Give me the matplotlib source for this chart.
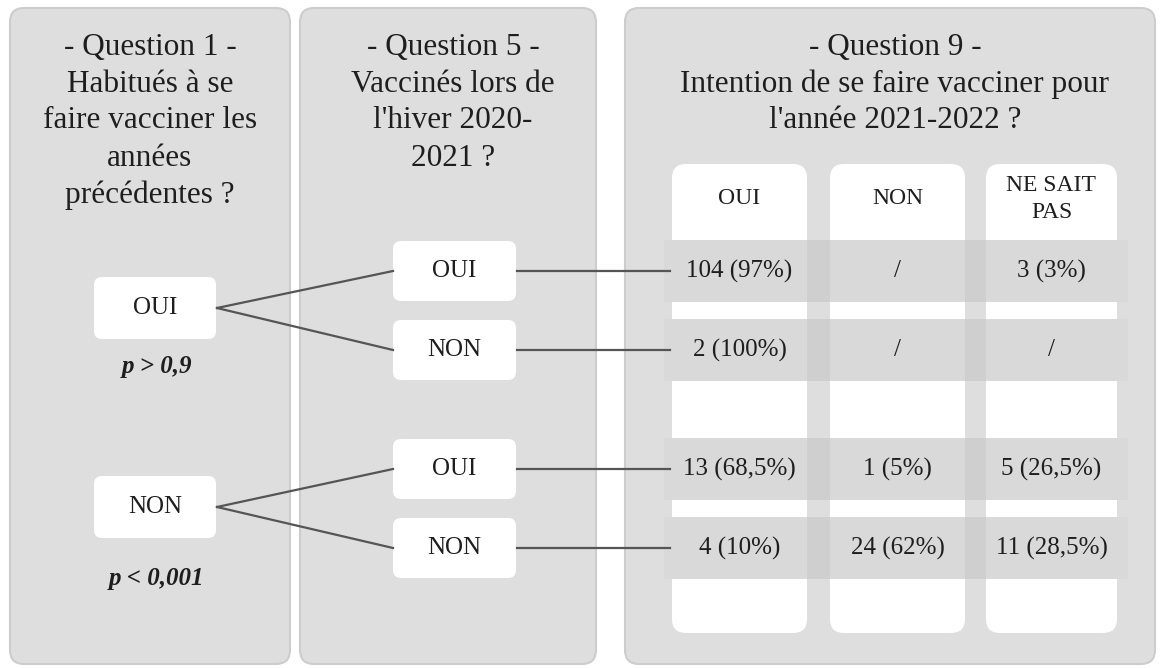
import matplotlib.pyplot as plt
from matplotlib.patches import FancyBboxPatch, Rectangle

plt.rcParams['font.family'] = ['Liberation Serif', 'DejaVu Serif']

# --- texts / values ---
q1_title = ["- Question 1 -", "Habitués à se", "faire vacciner les", "années", "précédentes ?"]
q5_title = ["- Question 5 -", "Vaccinés lors de", "l'hiver 2020-", "2021 ?"]
q9_title = ["- Question 9 -", "Intention de se faire vacciner pour", "l'année 2021-2022 ?"]

q1_answers = ["OUI", "NON"]
q1_pvalues = ["p > 0,9", "p < 0,001"]
q5_answers = ["OUI", "NON", "OUI", "NON"]

q9_cols = ["OUI", "NON", "NE SAIT\nPAS"]
q9_values = [
    ["104 (97%)", "/", "3 (3%)"],
    ["2 (100%)", "/", "/"],
    ["13 (68,5%)", "1 (5%)", "5 (26,5%)"],
    ["4 (10%)", "24 (62%)", "11 (28,5%)"],
]

W, H = 1161, 668
fig = plt.figure(figsize=(W / 100, H / 100), dpi=100)
ax = fig.add_axes([0, 0, 1, 1])
ax.set_xlim(0, W)
ax.set_ylim(H, 0)
ax.axis('off')

panel_col = '#dedede'
line_col = '#555555'
txt_col = '#1e1e1e'
TITLE = 22.5
SMALL = 18


def rbox(x0, y0, x1, y1, fc, ec='none', r=10, z=1, lw=1.0):
    p = FancyBboxPatch((x0, y0), x1 - x0, y1 - y0,
                       boxstyle=f"round,pad=0,rounding_size={r}",
                       fc=fc, ec=ec, lw=lw, zorder=z)
    ax.add_patch(p)


def title(lines, xc, y0, step=37):
    for i, s in enumerate(lines):
        ax.text(xc, y0 + i * step, s, ha='center', va='center',
                fontsize=TITLE, color=txt_col, zorder=5)


# panels
rbox(10, 8, 290, 664, panel_col, '#cdcdcd', r=14, lw=1.5)
rbox(300, 8, 596, 664, panel_col, '#cdcdcd', r=14, lw=1.5)
rbox(625, 8, 1155, 664, panel_col, '#cdcdcd', r=14, lw=1.5)

title(q1_title, 150, 47)
title(q5_title, 453, 47)
title(q9_title, 895, 47)

# question 1 boxes
q1_y = [308, 507]
p_y = [367, 578]
for lab, yc, pv, py in zip(q1_answers, q1_y, q1_pvalues, p_y):
    rbox(94, yc - 31, 216, yc + 31, 'white', r=8, z=2)
    ax.text(155, yc, lab, ha='center', va='center', fontsize=SMALL, color=txt_col, zorder=5)
    ax.text(157, py, pv, ha='center', va='center', fontsize=SMALL,
            style='italic', weight='bold', color=txt_col, zorder=5)

# question 5 boxes
q5_y = [271, 350, 469, 548]
for lab, yc in zip(q5_answers, q5_y):
    rbox(393, yc - 30, 516, yc + 30, 'white', r=8, z=2)
    ax.text(454, yc, lab, ha='center', va='center', fontsize=SMALL, color=txt_col, zorder=5)

# connectors q1 -> q5
for i, y1 in enumerate(q1_y):
    for y2 in q5_y[2 * i:2 * i + 2]:
        ax.plot([217, 393], [y1, y2], color=line_col, lw=1.6, zorder=3)

# table columns for question 9
col_x = [(672, 807), (830, 965), (986, 1117)]
for (x0, x1), lab in zip(col_x, q9_cols):
    rbox(x0, 164, x1, 633, 'white', r=14, z=2)
    ax.text((x0 + x1) / 2, 199, lab, ha='center', va='center', fontsize=17,
            color=txt_col, linespacing=1.4, zorder=5)

# rows
row_y = q5_y
for yc, vals in zip(row_y, q9_values):
    ax.add_patch(Rectangle((664, yc - 31), 464, 62, fc='#d9d9d9', ec='none', zorder=3))
    for (x0, x1) in zip([807, 965], [830, 986]):
        ax.add_patch(Rectangle((x0, yc - 31), x1 - x0, 62, fc='#cfcfcf', ec='none', zorder=3))
    for (x0, x1), v in zip(col_x, vals):
        ax.text((x0 + x1) / 2, yc, v, ha='center', va='center', fontsize=SMALL,
                color=txt_col, zorder=5)
    # connector q5 -> q9
    ax.plot([517, 670], [yc, yc], color=line_col, lw=1.6, zorder=4)

fig.savefig('out.png', dpi=100)
